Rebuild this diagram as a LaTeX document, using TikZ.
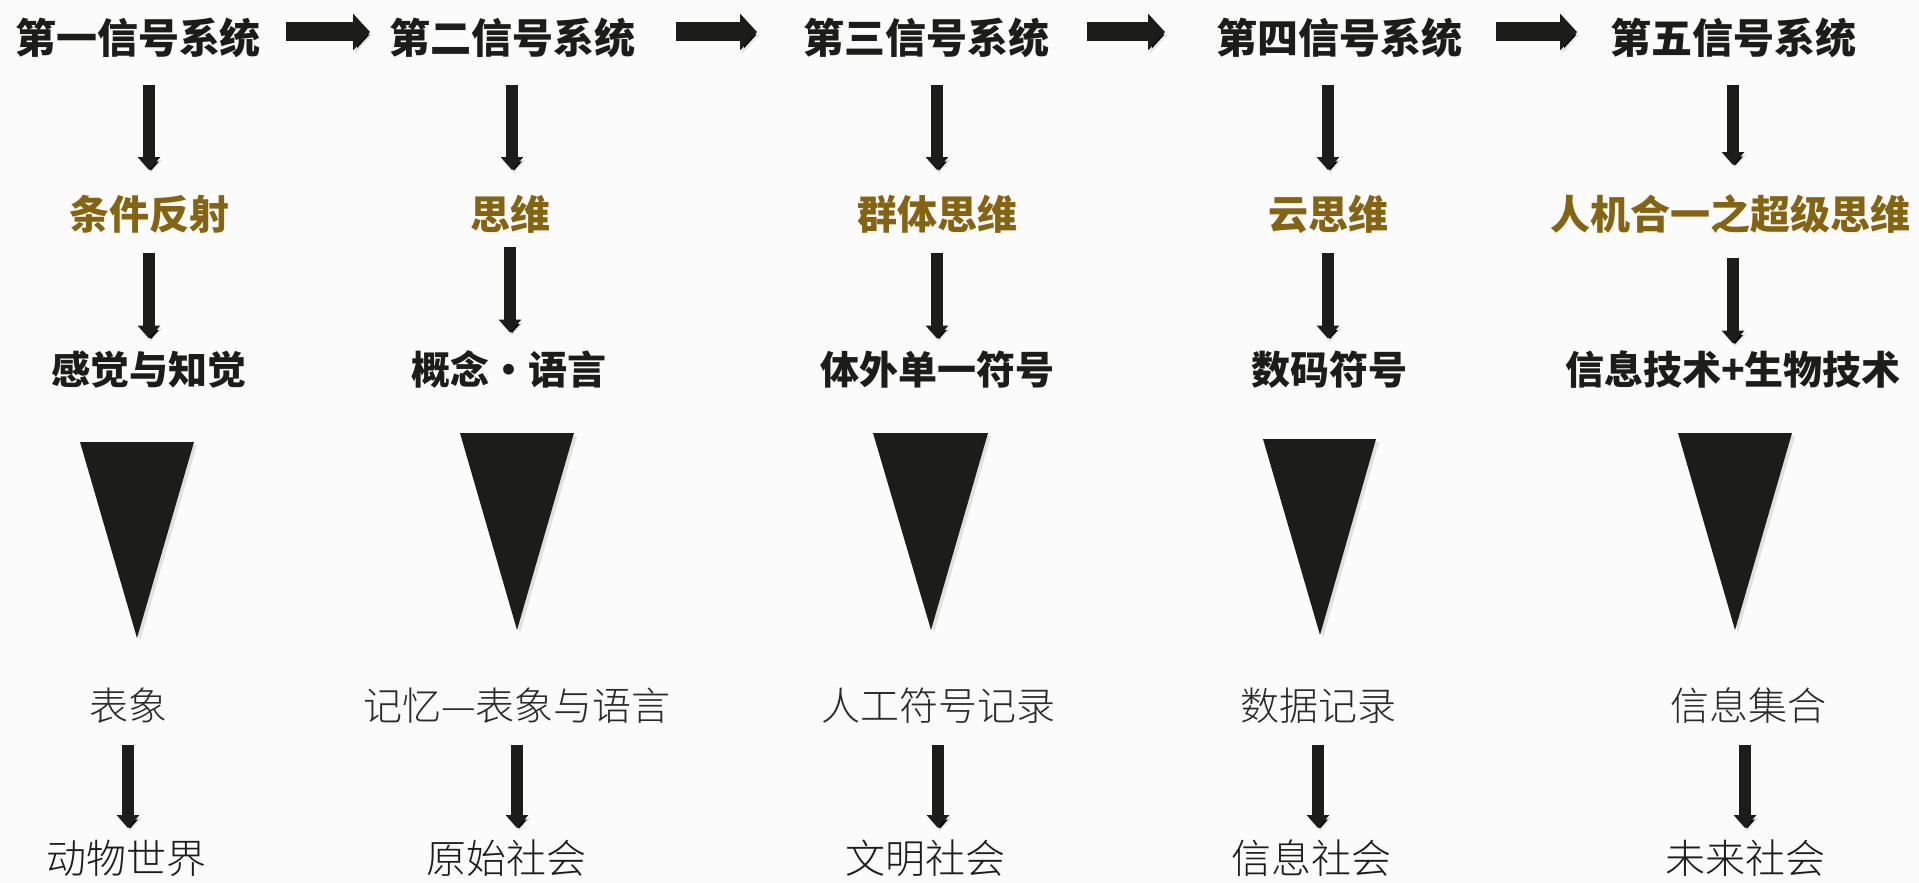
\documentclass[tikz,border=0pt]{standalone}
\usepackage{fontspec}
\newfontfamily\cjk{Noto Sans CJK SC}
\newfontfamily\cjklight{Noto Sans CJK SC Light}
\usetikzlibrary{arrows.meta}
\definecolor{bg}{HTML}{FBFBFB}
\definecolor{ink}{HTML}{1C1C1A}
\definecolor{gold}{HTML}{846312}
\definecolor{soft}{HTML}{2A2A2A}
\begin{document}
\begin{tikzpicture}[x=1pt,y=-1pt,
  lbl/.style={inner sep=0pt, outer sep=0pt, anchor=center},
  ttl/.style={lbl, font=\cjk\bfseries\fontsize{41}{41}\selectfont, text=ink, text height=36pt, text depth=5pt},
  think/.style={lbl, font=\cjk\bfseries\fontsize{40}{40}\selectfont, text=gold, text height=35pt, text depth=5pt},
  medium/.style={lbl, font=\cjk\bfseries\fontsize{39}{39}\selectfont, text=ink, text height=34pt, text depth=5pt},
  memo/.style={lbl, font=\cjklight\fontsize{39}{39}\selectfont, text=soft, text height=34pt, text depth=5pt},
  world/.style={lbl, font=\cjklight\fontsize{40}{40}\selectfont, text=ink, text height=35pt, text depth=5pt},
  shade/.style={preaction={draw=black, draw opacity=0.10, transform canvas={shift={(2pt,-3pt)}}}},
  bigarrow/.style={draw=ink, line width=19pt, -{Triangle[length=17pt,width=36pt]}, shade},
  darrow/.style={draw=ink, line width=12pt, -{Triangle[length=13pt,width=22pt]}, shade},
  wedge/.style={fill=ink},
  wedgeshade/.style={fill=black, opacity=0.10}
]
\useasboundingbox (0,0) rectangle (1919,883);
\fill[bg] (0,0) rectangle (1919,883);

% titles
\node[ttl] (t1) at (138,38) {第一信号系统};
\node[ttl] (t2) at (512,38) {第二信号系统};
\node[ttl] (t3) at (926,38) {第三信号系统};
\node[ttl] (t4) at (1339,38) {第四信号系统};
\node[ttl] (t5) at (1733,38) {第五信号系统};

% thinking
\node[think] (y1) at (149,214) {条件反射};
\node[think] (y2) at (510,214) {思维};
\node[think] (y3) at (937,214) {群体思维};
\node[think] (y4) at (1328,214) {云思维};
\node[think] (y5) at (1730,214) {人机合一之超级思维};

% medium
\node[medium] (r1) at (149,370) {感觉与知觉};
\node[medium] (r2) at (509,370) {概念·语言};
\node[medium] (r3) at (937,370) {体外单一符号};
\node[medium] (r4) at (1329,370) {数码符号};
\node[medium] (r5) at (1733,370) {信息技术+生物技术};

% memory
\node[memo] (s1) at (128,706) {表象};
\node[memo] (s2) at (517,706) {记忆—表象与语言};
\node[memo] (s3) at (938,706) {人工符号记录};
\node[memo] (s4) at (1318,706) {数据记录};
\node[memo] (s5) at (1748,706) {信息集合};

% world
\node[world] (b1) at (126,858) {动物世界};
\node[world] (b2) at (506,858) {原始社会};
\node[world] (b3) at (925,858) {文明社会};
\node[world] (b4) at (1311,858) {信息社会};
\node[world] (b5) at (1745,858) {未来社会};

% horizontal arrows
\draw[bigarrow, shorten <=25pt, shorten >=19pt] ([yshift=6pt]t1.east) -- ([yshift=6pt]t2.west);
\draw[bigarrow, shorten <=41pt, shorten >=46pt] ([yshift=6pt]t2.east) -- ([yshift=6pt]t3.west);
\draw[bigarrow, shorten <=38pt, shorten >=51pt] ([yshift=6pt]t3.east) -- ([yshift=6pt]t4.west);
\draw[bigarrow, shorten <=34pt, shorten >=33pt] ([yshift=6pt]t4.east) -- ([yshift=6pt]t5.west);

% title -> thinking
\draw[darrow, shorten <=26pt, shorten >=24pt] (t1.south -| y1.north) -- (y1.north);
\draw[darrow, shorten <=26pt, shorten >=24pt] (t2.south) -- (t2.south |- y2.north);
\draw[darrow, shorten <=26pt, shorten >=24pt] (t3.south -| y3.north) -- (y3.north);
\draw[darrow, shorten <=26pt, shorten >=24pt] (t4.south -| y4.north) -- (y4.north);
\draw[darrow, shorten <=26pt, shorten >=29pt] (t5.south) -- (t5.south |- y5.north);

% thinking -> medium
\draw[darrow, shorten <=19pt, shorten >=12pt] (y1.south) -- (r1.north);
\draw[darrow, shorten <=13pt, shorten >=18pt] (y2.south) -- (y2.south |- r2.north);
\draw[darrow, shorten <=19pt, shorten >=12pt] (y3.south) -- (r3.north);
\draw[darrow, shorten <=19pt, shorten >=12pt] (y4.south) -- (y4.south |- r4.north);
\draw[darrow, shorten <=24pt, shorten >=7pt] (y5.south -| r5.north) -- (r5.north);

% wedges
\fill[wedgeshade] (83,445) -- (197,445) -- (140,641) -- cycle;
\fill[wedge] (80,442) -- (194,442) -- (137,638) -- cycle;
\fill[wedgeshade] (463,436) -- (577,436) -- (520,633) -- cycle;
\fill[wedge] (460,433) -- (574,433) -- (517,630) -- cycle;
\fill[wedgeshade] (876,436) -- (991,436) -- (934,633) -- cycle;
\fill[wedge] (873,433) -- (988,433) -- (931,630) -- cycle;
\fill[wedgeshade] (1266,442) -- (1379,442) -- (1323,638) -- cycle;
\fill[wedge] (1263,439) -- (1376,439) -- (1320,635) -- cycle;
\fill[wedgeshade] (1681,436) -- (1795,436) -- (1738,633) -- cycle;
\fill[wedge] (1678,433) -- (1792,433) -- (1735,630) -- cycle;

% memory -> world
\draw[darrow, shorten <=19pt, shorten >=10pt] (s1.south) -- (s1.south |- b1.north);
\draw[darrow, shorten <=19pt, shorten >=10pt] (s2.south) -- (s2.south |- b2.north);
\draw[darrow, shorten <=19pt, shorten >=10pt] (s3.south) -- (s3.south |- b3.north);
\draw[darrow, shorten <=19pt, shorten >=10pt] (s4.south) -- (s4.south |- b4.north);
\draw[darrow, shorten <=19pt, shorten >=10pt] (s5.south -| b5.north) -- (b5.north);
\end{tikzpicture}
\end{document}
